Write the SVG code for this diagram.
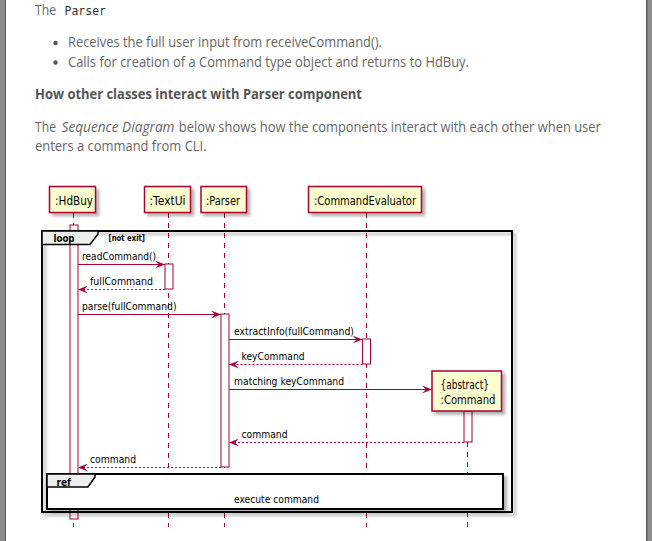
<svg xmlns="http://www.w3.org/2000/svg" width="652" height="541" viewBox="0 0 652 541">
<defs>
<style>
.pg{font-family:"Open Sans","Liberation Sans",sans-serif;font-size:14px;fill:#666}
.hd{font-family:"Open Sans","Liberation Sans",sans-serif;font-size:14px;font-weight:bold;fill:#555}
.mono{font-family:"DejaVu Sans Mono","Liberation Mono",monospace;font-size:12px;fill:#333}
.pt{font-family:"DejaVu Sans","Liberation Sans",sans-serif;font-size:13px;fill:#000}
.msg{font-family:"DejaVu Sans","Liberation Sans",sans-serif;font-size:11px;fill:#000}
.fb{font-family:"DejaVu Sans","Liberation Sans",sans-serif;font-weight:bold;fill:#000}
.box{fill:#FEFECE;stroke:#A80036;stroke-width:1.5}
.life{stroke:#A80036;stroke-width:1;stroke-dasharray:5,5;fill:none}
.act{fill:#fff;stroke:#A80036;stroke-width:1}
.call{stroke:#A80036;stroke-width:1;fill:none}
.ret{stroke:#A80036;stroke-width:1;stroke-dasharray:2,2;fill:none}
.frame{stroke:#000;stroke-width:2;fill:none}
</style>
<filter id="sh" x="-20%" y="-20%" width="140%" height="140%">
<feGaussianBlur in="SourceAlpha" stdDeviation="1.5"/>
<feOffset dx="3" dy="3" result="b"/>
<feFlood flood-color="#000" flood-opacity="0.3"/>
<feComposite in2="b" operator="in"/>
<feMerge><feMergeNode/><feMergeNode in="SourceGraphic"/></feMerge>
</filter>
<marker id="ah" viewBox="0 0 10 8" refX="10" refY="4" markerWidth="10" markerHeight="8" markerUnits="userSpaceOnUse" orient="auto">
<path d="M0,0 L10,4 L0,8 L4,4 Z" fill="#A80036"/>
</marker>
</defs>
<rect width="652" height="541" fill="#fff"/>
<rect x="0" y="0" width="5" height="541" fill="#8c8c8c"/>
<rect x="5" y="0" width="1" height="541" fill="#5a5a5a"/>
<rect x="647" y="0" width="5" height="541" fill="#8c8c8c"/>
<rect x="646" y="0" width="1.5" height="541" fill="#5a5a5a"/>

<g id="page-text">
<text class="pg" x="35" y="15" textLength="21" lengthAdjust="spacingAndGlyphs">The</text>
<text class="mono" x="64.5" y="15" textLength="41.5" lengthAdjust="spacingAndGlyphs">Parser</text>
<circle cx="55.5" cy="43" r="2.2" fill="#555"/>
<text class="pg" x="68" y="47" textLength="314" lengthAdjust="spacingAndGlyphs">Receives the full user input from receiveCommand().</text>
<circle cx="55.5" cy="62.5" r="2.2" fill="#555"/>
<text class="pg" x="68" y="67" textLength="401" lengthAdjust="spacingAndGlyphs">Calls for creation of a Command type object and returns to HdBuy.</text>
<text class="hd" x="35" y="99" textLength="327" lengthAdjust="spacingAndGlyphs">How other classes interact with Parser component</text>
<text class="pg" x="35" y="131.5" textLength="21" lengthAdjust="spacingAndGlyphs">The</text>
<text class="pg" x="61.5" y="131.5" font-style="italic" textLength="113" lengthAdjust="spacingAndGlyphs">Sequence Diagram</text>
<text class="pg" x="178.8" y="131.5" textLength="422" lengthAdjust="spacingAndGlyphs">below shows how the components interact with each other when user</text>
<text class="pg" x="35" y="151" textLength="171.6" lengthAdjust="spacingAndGlyphs">enters a command from CLI.</text>
</g>

<g id="lifelines">
<line class="life" x1="73.5" y1="213" x2="73.5" y2="527"/>
<line class="life" x1="168.5" y1="213" x2="168.5" y2="527"/>
<line class="life" x1="224.5" y1="213" x2="224.5" y2="527"/>
<line class="life" x1="366.5" y1="213" x2="366.5" y2="527"/>
<line class="life" x1="467.5" y1="412" x2="467.5" y2="527"/>
</g>

<g id="activations">
<rect class="act" x="70" y="225" width="8" height="294"/>
<rect class="act" x="165" y="264" width="8" height="25"/>
<rect class="act" x="221" y="314" width="8" height="153"/>
<rect class="act" x="362.5" y="339" width="8" height="25"/>
<rect class="act" x="464" y="411" width="8" height="31"/>
</g>

<g id="HdBuy"><rect class="box" x="49.5" y="186.5" width="46" height="26" filter="url(#sh)"/><text class="pt" x="55" y="204.5" textLength="38" lengthAdjust="spacingAndGlyphs">:HdBuy</text></g>
<g id="TextUi"><rect class="box" x="144.5" y="186.5" width="46" height="26" filter="url(#sh)"/><text class="pt" x="149.5" y="204.5" textLength="36" lengthAdjust="spacingAndGlyphs">:TextUi</text></g>
<g id="Parser"><rect class="box" x="201" y="186.5" width="45.5" height="26" filter="url(#sh)"/><text class="pt" x="206" y="204.5" textLength="34" lengthAdjust="spacingAndGlyphs">:Parser</text></g>
<g id="CommandEvaluator"><rect class="box" x="308.5" y="186.5" width="113" height="26" filter="url(#sh)"/><text class="pt" x="314" y="204.5" textLength="102" lengthAdjust="spacingAndGlyphs">:CommandEvaluator</text></g>

<g id="loop">
<rect class="frame" x="42" y="231" width="470" height="281" filter="url(#sh)"/>
<path d="M42,231 L98,231 L98,234 L90,244.5 L42,244.5 Z" fill="#EEEEEE" stroke="#000" stroke-width="1.5"/>
<text class="fb" x="53.5" y="242" font-size="11" textLength="21" lengthAdjust="spacingAndGlyphs">loop</text>
<text class="fb" x="108.5" y="241" font-size="9" textLength="36.5" lengthAdjust="spacingAndGlyphs">[not exit]</text>
</g>

<g id="Command"><rect class="box" x="432" y="371" width="69.5" height="40" filter="url(#sh)"/><text class="pt" x="440.5" y="389" font-size="12" textLength="48.5" lengthAdjust="spacingAndGlyphs">{abstract}</text><text class="pt" x="440.5" y="404" font-size="12" textLength="55" lengthAdjust="spacingAndGlyphs">:Command</text></g>

<g id="connectors">
<line class="call" x1="78" y1="264.5" x2="165" y2="264.5" marker-end="url(#ah)"/>
<text class="msg" x="82" y="259.5" textLength="74" lengthAdjust="spacingAndGlyphs">readCommand()</text>
<line class="ret" x1="165" y1="289.5" x2="78" y2="289.5" marker-end="url(#ah)"/>
<text class="msg" x="90" y="285" textLength="63" lengthAdjust="spacingAndGlyphs">fullCommand</text>
<line class="call" x1="78" y1="314.5" x2="221" y2="314.5" marker-end="url(#ah)"/>
<text class="msg" x="82" y="310" textLength="94.5" lengthAdjust="spacingAndGlyphs">parse(fullCommand)</text>
<line class="call" x1="229" y1="339.5" x2="362.5" y2="339.5" marker-end="url(#ah)"/>
<text class="msg" x="234" y="335" textLength="120" lengthAdjust="spacingAndGlyphs">extractInfo(fullCommand)</text>
<line class="ret" x1="362.5" y1="364.5" x2="229" y2="364.5" marker-end="url(#ah)"/>
<text class="msg" x="241.5" y="360" textLength="63" lengthAdjust="spacingAndGlyphs">keyCommand</text>
<line class="call" x1="229" y1="389.5" x2="432" y2="389.5" marker-end="url(#ah)"/>
<text class="msg" x="234" y="385" textLength="110" lengthAdjust="spacingAndGlyphs">matching keyCommand</text>
<line class="ret" x1="464" y1="442.5" x2="229" y2="442.5" marker-end="url(#ah)"/>
<text class="msg" x="241.5" y="438" textLength="46" lengthAdjust="spacingAndGlyphs">command</text>
<line class="ret" x1="221" y1="467.5" x2="78" y2="467.5" marker-end="url(#ah)"/>
<text class="msg" x="90" y="463" textLength="46" lengthAdjust="spacingAndGlyphs">command</text>
</g>

<g id="ref">
<rect x="47" y="474" width="456" height="35" fill="#fff" stroke="#000" stroke-width="2" filter="url(#sh)"/>
<path d="M47,474 L95,474 L95,477 L88,487 L47,487 Z" fill="#EEEEEE" stroke="#000" stroke-width="1.5"/>
<text class="fb" x="56.5" y="485.5" font-size="11" textLength="14.5" lengthAdjust="spacingAndGlyphs">ref</text>
<text class="msg" x="276.5" y="502.5" text-anchor="middle" textLength="85" lengthAdjust="spacingAndGlyphs">execute command</text>
</g>
</svg>
